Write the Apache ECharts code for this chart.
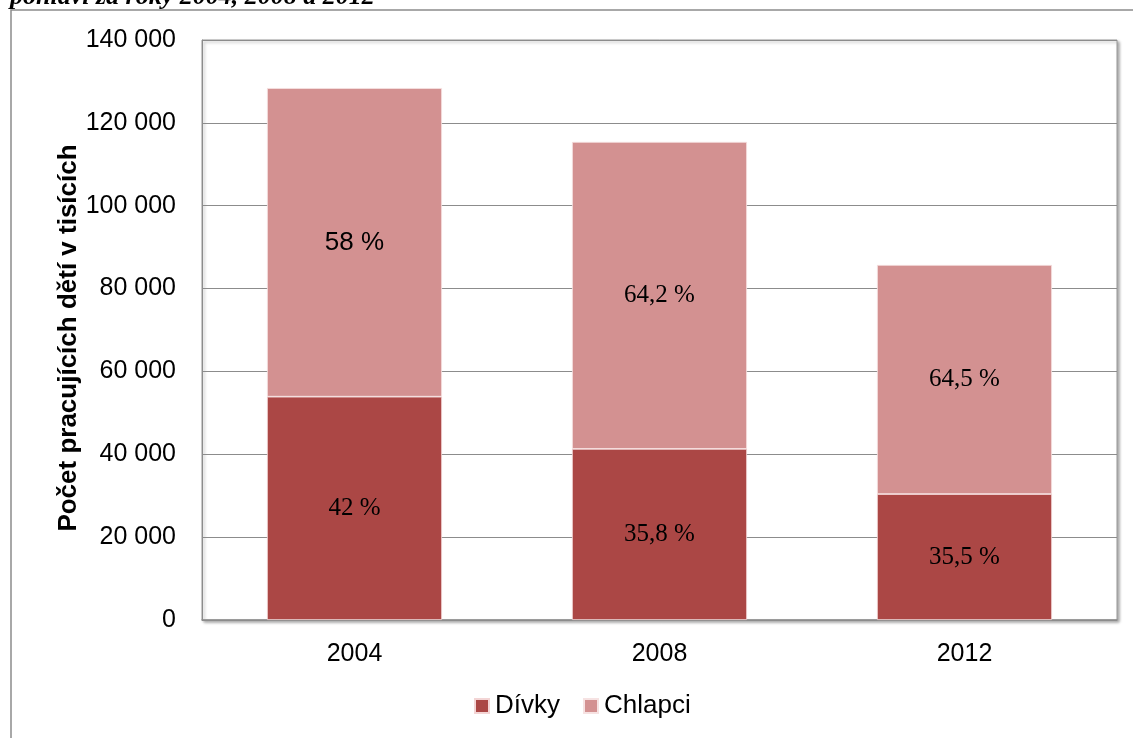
<!DOCTYPE html>
<html>
<head>
<meta charset="utf-8">
<script src="https://cdn.jsdelivr.net/npm/echarts@6/dist/echarts.min.js"></script>
<style>
html,body{margin:0;padding:0;background:#fff;}
#c{width:1133px;height:738px;}
</style>
</head>
<body>
<div id="c"></div>
<script>
var categories = ['2004', '2008', '2012'];
var divky = [53900, 41300, 30400];
var chlapci = [74500, 74100, 55300];
var divkyLabels = ['42 %', '35,8 %', '35,5 %'];
var chlapciLabels = ['58 %', '64,2 %', '64,5 %'];
var yTicks = [0, 20000, 40000, 60000, 80000, 100000, 120000, 140000];

function fmt(v) {
  var s = String(v);
  return s.replace(/\B(?=(\d{3})+(?!\d))/g, ' ');
}

var sansLabel = {fontFamily: 'Liberation Sans', fontSize: 26, color: '#000'};

var chart = echarts.init(document.getElementById('c'));
chart.setOption({
  animation: false,
  textStyle: {fontFamily: 'Liberation Sans'},
  graphic: [
    {type: 'polyline', shape: {points: [[11, 800], [11, 10], [1140, 10]]},
     style: {stroke: '#8c8c8c', lineWidth: 1.5, fill: null}, silent: true},
    {type: 'text', left: 10, top: -16,
     style: {text: 'pohlaví za roky 2004, 2008 a 2012', fontFamily: 'Liberation Serif',
             fontStyle: 'italic', fontWeight: 'bold', fontSize: 26, fill: '#000'}}
  ],
  grid: {left: 202, right: 16, top: 40, bottom: 118, show: true,
         borderColor: '#9a9a9a', borderWidth: 1, backgroundColor: '#fff',
         shadowColor: 'rgba(0,0,0,0.35)', shadowBlur: 3, shadowOffsetX: 2, shadowOffsetY: 2},
  legend: {
    bottom: 14, left: 469, itemWidth: 14, itemHeight: 14, itemGap: 23,
    icon: 'rect',
    textStyle: {fontSize: 26, color: '#000', fontFamily: 'Liberation Sans', padding: [0, 0, 0, 1]},
    data: ['Dívky', 'Chlapci']
  },
  xAxis: {
    type: 'category', data: categories,
    axisLine: {lineStyle: {color: '#8c8c8c', width: 1.5}},
    axisTick: {show: false},
    axisLabel: {fontSize: 25, color: '#000', margin: 22, fontFamily: 'Liberation Sans'}
  },
  yAxis: {
    type: 'value', min: 0, max: 140000, interval: 20000,
    name: 'Počet pracujících dětí v tisících',
    nameLocation: 'middle', nameGap: 120, nameRotate: 90, nameMoveOverlap: false,
    nameTextStyle: {fontSize: 26, fontWeight: 'bold', color: '#000', fontFamily: 'Liberation Sans',
                    padding: [0, 16, 0, 0]},
    axisLine: {show: true, lineStyle: {color: '#8c8c8c', width: 1}},
    axisTick: {show: false},
    splitLine: {lineStyle: {color: '#8c8c8c', width: 1.2}},
    axisLabel: {fontSize: 25, color: '#000', margin: 26, fontFamily: 'Liberation Sans',
                formatter: function (v) { return yTicks.indexOf(v) >= 0 ? fmt(v) : ''; }}
  },
  series: [
    {
      name: 'Dívky', type: 'bar', stack: 'a', barWidth: 175,
      itemStyle: {color: '#AB4745', borderColor: '#f3d5d5', borderWidth: 0.8},
      label: {show: true, position: 'inside', fontFamily: 'Liberation Serif', fontSize: 25, color: '#000',
              formatter: function (p) { return divkyLabels[p.dataIndex]; }},
      data: divky
    },
    {
      name: 'Chlapci', type: 'bar', stack: 'a', barWidth: 175,
      itemStyle: {color: '#D39191', borderColor: '#f6e2e2', borderWidth: 0.8},
      label: {show: true, position: 'inside', fontFamily: 'Liberation Serif', fontSize: 25, color: '#000',
              formatter: function (p) { return chlapciLabels[p.dataIndex]; }},
      data: chlapci.map(function (v, i) {
        return i === 0 ? {value: v, label: sansLabel} : v;
      })
    }
  ]
});
</script>
</body>
</html>
